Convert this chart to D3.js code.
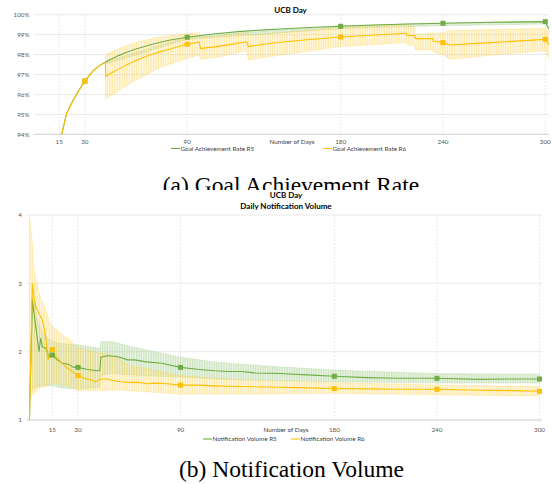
<!DOCTYPE html>
<html>
<head>
<meta charset="utf-8">
<script src="https://cdn.jsdelivr.net/npm/d3@7"></script>
<style>
  body { margin: 0; background: #fff; }
  svg { display: block; }
  .tick-label { font-family: Lato, "Liberation Sans", sans-serif; font-size: 6.3px; fill: #595959; }
  .title { font-family: Lato, "Liberation Sans", sans-serif; font-size: 8px; font-weight: bold; fill: #000; }
  .caption { font-family: "Liberation Serif", "DejaVu Serif", serif; font-size: 23.5px; fill: #000; }
</style>
</head>
<body>
<svg id="chart" width="552" height="484"></svg>
<script>
// ---- data ----
const tickDays = [15, 30, 90, 180, 240, 300];
const goalTicks = [94, 95, 96, 97, 98, 99, 100];
const notifTicks = [1, 2, 3, 4];
const goalMarkerDays = [30, 90, 180, 240, 300];
const notifMarkerDays = [15, 30, 90, 180, 240, 300];

// Goal achievement rate (%), [day, value]
const goalR5 = [[16.4, 94.0], [19.3, 95.05], [23.2, 95.72], [26.5, 96.2], [30, 96.67], [35, 97.2], [38.9, 97.47], [42, 97.61],
  [45, 97.75], [50, 97.96], [55, 98.13], [60, 98.28], [70, 98.53], [80, 98.73], [90, 98.87], [105, 99.03], [120, 99.15],
  [135, 99.24], [150, 99.31], [165, 99.37], [180, 99.42], [200, 99.48], [220, 99.53], [240, 99.57], [270, 99.62],
  [300, 99.65], [302, 99.3]];
const goalR6 = [[16.4, 94.0], [19.3, 95.05], [23.2, 95.72], [26.5, 96.2], [30, 96.67], [35, 97.2], [38.9, 97.47], [42, 97.61],
  [42.3, 96.91], [45, 97.05], [48.7, 97.22], [53, 97.42], [58.4, 97.64], [63, 97.82], [68.2, 97.98], [73, 98.11],
  [78, 98.23], [84, 98.38], [90, 98.52], [97, 98.62], [97.8, 98.3], [102, 98.35], [107.3, 98.4], [115, 98.5],
  [125, 98.64], [125.8, 98.4], [135, 98.52], [144.5, 98.62], [160, 98.74], [180, 98.88], [200, 98.98], [218.6, 99.07],
  [219, 98.97], [223.5, 98.95], [223.8, 98.8], [234, 98.8], [234.3, 98.68], [240, 98.6], [244, 98.48], [260, 98.56],
  [280, 98.66], [300, 98.76], [302, 98.48]];
// error bars, [day, low, high]
const goalR5Err = [[42, 97.5, 97.65], [90, 98.76, 98.9], [180, 99.3, 99.45], [240, 99.45, 99.6], [300, 99.53, 99.68], [302, 99.2, 99.35]];
const goalR6Err = [[42, 95.78, 98.0], [50, 96.2, 98.3], [60, 96.72, 98.62], [75, 97.39, 98.9], [90, 97.8, 99.05],
  [97, 97.98, 99.1], [97.8, 97.76, 98.85], [110, 97.9, 98.95], [125, 98.2, 99.12], [125.8, 97.73, 98.95],
  [145, 97.98, 99.1], [180, 98.4, 99.38], [218.6, 98.6, 99.52], [219, 98.5, 99.42], [223.5, 98.45, 99.4],
  [223.8, 98.23, 99.0], [234, 98.23, 99.1], [234.3, 98.1, 99.05], [240, 98.0, 99.1], [244, 97.76, 99.2],
  [270, 97.98, 99.26], [300, 98.2, 99.32], [302, 97.81, 99.2]];

// Daily notification volume, [day, value]
const notifR5 = [[1.6, 1.0], [3.3, 2.77], [4.3, 2.56], [5.3, 2.37], [7.2, 2.0], [8.2, 2.2], [9.2, 2.07], [11.1, 2.05],
  [12.5, 1.96], [13.5, 1.92], [15, 1.95], [17.9, 1.88], [20.9, 1.83], [23.8, 1.82], [27.7, 1.77], [30, 1.77],
  [35.5, 1.74], [41.4, 1.72], [42.8, 1.72], [43.4, 1.92], [47, 1.94], [53, 1.93], [59, 1.88], [63, 1.88], [70, 1.85],
  [79, 1.83], [90, 1.77], [101, 1.74], [110, 1.72], [118, 1.71], [126, 1.71], [133, 1.69], [148, 1.68], [164, 1.66],
  [180, 1.64], [199, 1.62], [217, 1.61], [240, 1.61], [265, 1.595], [285, 1.6], [300, 1.6]];
const notifR6 = [[1.6, 1.0], [3.3, 3.0], [4.3, 2.8], [5.3, 2.66], [7.2, 2.56], [9.2, 2.46], [11.1, 2.22], [12.5, 1.88],
  [13.6, 2.0], [15, 2.03], [17, 1.93], [19.9, 1.85], [23.8, 1.76], [27.7, 1.69], [30, 1.65], [33.6, 1.61], [37.5, 1.59],
  [40.4, 1.56], [43.4, 1.6], [47, 1.6], [50, 1.58], [55, 1.56], [60, 1.55], [66, 1.55], [70, 1.53], [75, 1.54],
  [82, 1.53], [90, 1.51], [100, 1.51], [110, 1.5], [125, 1.49], [148, 1.48], [165, 1.47], [180, 1.46], [200, 1.455],
  [217, 1.45], [240, 1.45], [265, 1.435], [285, 1.43], [300, 1.42]];
const notifR5Err = [[3.3, 1.45, 2.9], [6, 1.48, 2.5], [9, 1.5, 2.3], [12, 1.5, 2.2], [15, 1.5, 2.15], [20, 1.47, 2.12],
  [30, 1.45, 2.1], [42.8, 1.48, 2.05], [43.4, 1.65, 2.15], [50, 1.68, 2.15], [60, 1.66, 2.08], [75, 1.64, 2.0],
  [90, 1.63, 1.92], [110, 1.6, 1.85], [140, 1.58, 1.79], [180, 1.56, 1.73], [240, 1.54, 1.68], [300, 1.54, 1.67]];
const notifR6Err = [[1.6, 1.3, 3.98], [2.9, 1.35, 3.71], [3.4, 1.37, 3.54], [3.9, 1.38, 3.32], [4.9, 1.4, 3.07],
  [6.4, 1.45, 2.97], [8.2, 1.48, 2.78], [9.8, 1.48, 2.7], [11.3, 1.5, 2.6], [13, 1.52, 2.45], [15, 1.55, 2.37],
  [20, 1.52, 2.27], [24, 1.5, 2.2], [30, 1.43, 2.05], [43, 1.43, 1.98], [50, 1.44, 1.95], [60, 1.43, 1.8],
  [90, 1.38, 1.65], [120, 1.38, 1.59], [180, 1.39, 1.55], [240, 1.37, 1.51], [300, 1.35, 1.49]];

const GREEN = '#70AD47';
const GOLD = '#FFC000';

const svg = d3.select('#chart');

// hatch patterns for the dense error bars
const defs = svg.append('defs');
function hatch(id, bg, stripe) {
  const p = defs.append('pattern')
    .attr('id', id)
    .attr('patternUnits', 'userSpaceOnUse')
    .attr('width', 1.7)
    .attr('height', 10);
  p.append('rect').attr('width', 1.7).attr('height', 10).attr('fill', bg);
  p.append('line').attr('x1', 0.4).attr('x2', 0.4).attr('y1', 0).attr('y2', 10)
    .attr('stroke', stripe).attr('stroke-width', 0.6);
}
hatch('hatch-gold', 'rgba(255,230,153,0.25)', 'rgba(255,200,40,0.5)');
hatch('hatch-green', 'rgba(197,224,180,0.3)', 'rgba(112,173,71,0.42)');

// draw one chart panel
function drawPanel(cfg) {
  const g = svg.append('g');
  const x = d3.scaleLinear().domain([0, 300]).range(cfg.xRange);
  const y = d3.scaleLinear().domain(cfg.yDomain).range(cfg.yRange);

  // horizontal gridlines
  g.selectAll('.hgrid')
    .data(cfg.yTicks)
    .enter()
    .append('line')
    .attr('x1', cfg.xRange[0])
    .attr('x2', cfg.gridRight)
    .attr('y1', d => y(d))
    .attr('y2', d => y(d))
    .attr('stroke', '#e3e3e3')
    .attr('stroke-width', 0.8);

  // vertical dashed gridlines
  g.selectAll('.vgrid')
    .data(tickDays)
    .enter()
    .append('line')
    .attr('x1', d => x(d))
    .attr('x2', d => x(d))
    .attr('y1', cfg.yRange[1])
    .attr('y2', cfg.yRange[0] + 2)
    .attr('stroke', '#dadada')
    .attr('stroke-width', 0.6)
    .attr('stroke-dasharray', '2,1.5');

  // axis line
  g.append('line')
    .attr('x1', cfg.xRange[0]).attr('x2', cfg.gridRight)
    .attr('y1', cfg.yRange[0]).attr('y2', cfg.yRange[0])
    .attr('stroke', '#d0d0d0').attr('stroke-width', 0.8);

  // y tick labels
  g.selectAll('.ylab')
    .data(cfg.yTicks)
    .enter()
    .append('text')
    .attr('class', 'tick-label')
    .attr('x', cfg.yLabelX)
    .attr('y', d => y(d))
    .attr('dy', '0.35em')
    .attr('text-anchor', 'end')
    .text(cfg.yFormat);

  // x tick labels
  g.selectAll('.xlab')
    .data(tickDays)
    .enter()
    .append('text')
    .attr('class', 'tick-label')
    .attr('x', d => x(d))
    .attr('y', cfg.xLabelY)
    .attr('dy', '0.35em')
    .attr('text-anchor', 'middle')
    .text(d => d);

  g.append('text')
    .attr('class', 'tick-label')
    .attr('x', cfg.axisTitleX)
    .attr('y', cfg.xLabelY)
    .attr('dy', '0.35em')
    .attr('text-anchor', 'middle')
    .style('fill', '#404040')
    .text('Number of Days');

  // error bar bands
  const band = d3.area()
    .x(d => x(d[0]))
    .y0(d => y(d[1]))
    .y1(d => y(d[2]));

  g.append('path')
    .datum(cfg.r5Err)
    .attr('d', band)
    .attr('fill', 'url(#hatch-green)')
    .attr('stroke', 'rgba(112,173,71,0.3)')
    .attr('stroke-width', 0.5);

  g.append('path')
    .datum(cfg.r6Err)
    .attr('d', band)
    .attr('fill', 'url(#hatch-gold)')
    .attr('stroke', 'rgba(255,192,0,0.4)')
    .attr('stroke-width', 0.5);

  // series lines
  const line = d3.line()
    .x(d => x(d[0]))
    .y(d => y(d[1]));

  g.append('path')
    .datum(cfg.r5)
    .attr('d', line)
    .attr('fill', 'none')
    .attr('stroke', GREEN)
    .attr('stroke-width', 1.1);

  g.append('path')
    .datum(cfg.r6)
    .attr('d', line)
    .attr('fill', 'none')
    .attr('stroke', GOLD)
    .attr('stroke-width', 1.1);

  // square markers
  const lookup = (series, day) => series.find(p => p[0] === day)[1];
  [[cfg.r5, GREEN], [cfg.r6, GOLD]].forEach(([series, color]) => {
    g.selectAll(null)
      .data(cfg.markerDays)
      .enter()
      .append('rect')
      .attr('x', d => x(d) - 2.5)
      .attr('y', d => y(lookup(series, d)) - 2.5)
      .attr('width', 5)
      .attr('height', 5)
      .attr('fill', color);
  });

  // titles
  cfg.titles.forEach((t, i) => {
    g.append('text')
      .attr('class', 'title')
      .attr('x', cfg.titleX)
      .attr('y', cfg.titleY + i * 11)
      .attr('text-anchor', 'middle')
      .text(t);
  });

  // legend
  cfg.legend.forEach(item => {
    g.append('line')
      .attr('x1', item.x).attr('x2', item.x + 9)
      .attr('y1', cfg.legendY).attr('y2', cfg.legendY)
      .attr('stroke', item.color).attr('stroke-width', 1.1);
    g.append('text')
      .attr('class', 'tick-label')
      .attr('x', item.x + 9.5)
      .attr('y', cfg.legendY)
      .attr('dy', '0.35em')
      .style('fill', '#404040')
      .text(item.label);
  });

  return g;
}

// (a) goal achievement rate
drawPanel({
  xRange: [33.7, 545.3],
  gridRight: 549,
  yDomain: [94, 100],
  yRange: [134.3, 14.7],
  yTicks: goalTicks,
  yFormat: d => d + '%',
  yLabelX: 29.5,
  xLabelY: 141.5,
  axisTitleX: 292,
  r5: goalR5, r6: goalR6, r5Err: goalR5Err, r6Err: goalR6Err,
  markerDays: goalMarkerDays,
  titles: ['UCB Day'],
  titleX: 290.5,
  titleY: 12.5,
  legendY: 148.5,
  legend: [
    { x: 171, color: GREEN, label: 'Goal Achievement Rate R5' },
    { x: 323, color: GOLD, label: 'Goal Achievement Rate R6' }
  ]
});

svg.append('text')
  .attr('class', 'caption')
  .attr('x', 291)
  .attr('y', 193)
  .attr('text-anchor', 'middle')
  .text('(a) Goal Achievement Rate');

// bottom figure sits on its own white sheet, covering the caption's foot
svg.append('rect')
  .attr('x', 0).attr('y', 190)
  .attr('width', 552).attr('height', 294)
  .attr('fill', '#fff');

// (b) notification volume
drawPanel({
  xRange: [26.7, 539.5],
  gridRight: 542,
  yDomain: [1, 4],
  yRange: [420, 215],
  yTicks: notifTicks,
  yFormat: d => d,
  yLabelX: 22,
  xLabelY: 429.5,
  axisTitleX: 286,
  r5: notifR5, r6: notifR6, r5Err: notifR5Err, r6Err: notifR6Err,
  markerDays: notifMarkerDays,
  titles: ['UCB Day', 'Daily Notification Volume'],
  titleX: 286,
  titleY: 198,
  legendY: 439,
  legend: [
    { x: 203, color: GREEN, label: 'Notification Volume R5' },
    { x: 291, color: GOLD, label: 'Notification Volume R6' }
  ]
});

svg.append('text')
  .attr('class', 'caption')
  .attr('x', 291.5)
  .attr('y', 476.7)
  .attr('text-anchor', 'middle')
  .text('(b) Notification Volume');
</script>
</body>
</html>
